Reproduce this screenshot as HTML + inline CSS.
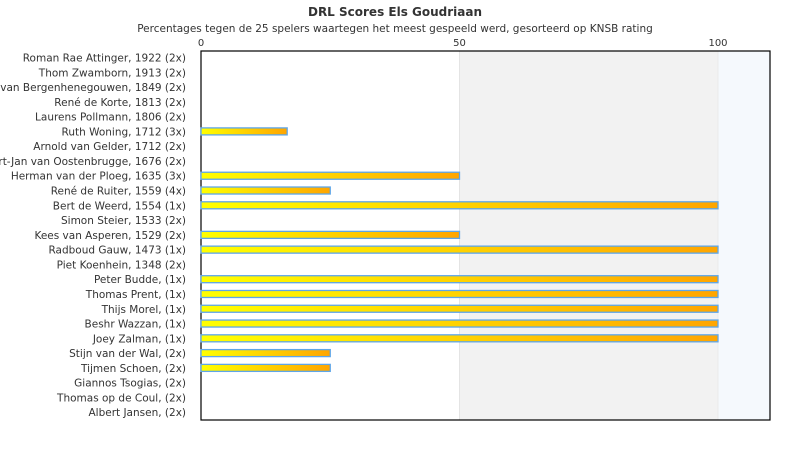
<!DOCTYPE html>
<html><head><meta charset="utf-8"><style>
body{margin:0;background:#fff;font-family:"DejaVu Sans","Liberation Sans",sans-serif;}
svg text{font-family:"DejaVu Sans","Liberation Sans",sans-serif;}
</style></head><body>
<svg id="c" width="790" height="450">
<defs><linearGradient id="g" x1="0" x2="1" y1="0" y2="0"><stop offset="0" stop-color="#ffff00"/><stop offset="1" stop-color="#ffa500"/></linearGradient></defs>
<text x="395" y="16" text-anchor="middle" font-size="12" font-weight="bold" fill="#333">DRL Scores Els Goudriaan</text>
<text x="395" y="32" text-anchor="middle" font-size="10.5" fill="#333">Percentages tegen de 25 spelers waartegen het meest gespeeld werd, gesorteerd op KNSB rating</text>
</svg>
<script>
const categories=["Roman Rae Attinger, 1922 (2x)","Thom Zwamborn, 1913 (2x)","Jan van Bergenhenegouwen, 1849 (2x)","René de Korte, 1813 (2x)","Laurens Pollmann, 1806 (2x)","Ruth Woning, 1712 (3x)","Arnold van Gelder, 1712 (2x)","Gert-Jan van Oostenbrugge, 1676 (2x)","Herman van der Ploeg, 1635 (3x)","René de Ruiter, 1559 (4x)","Bert de Weerd, 1554 (1x)","Simon Steier, 1533 (2x)","Kees van Asperen, 1529 (2x)","Radboud Gauw, 1473 (1x)","Piet Koenhein, 1348 (2x)","Peter Budde,  (1x)","Thomas Prent,  (1x)","Thijs Morel,  (1x)","Beshr Wazzan,  (1x)","Joey Zalman,  (1x)","Stijn van der Wal,  (2x)","Tijmen Schoen,  (2x)","Giannos Tsogias,  (2x)","Thomas op de Coul,  (2x)","Albert Jansen,  (2x)"];
const values=[0,0,0,0,0,16.67,0,0,50,25,100,0,50,100,0,100,100,100,100,100,25,25,0,0,0];
const tickValues=[0,50,100];
const bands=[[50,100,"#f2f2f2"],[100,110,"#f5f9fd"]];
const svg=document.getElementById('c');const NS="http://www.w3.org/2000/svg";
const L=201,R=770,T=51,B=420;
const x=v=>L+v*(718-L)/100;
const y=i=>57.5+i*14.78;
function mk(t,a){const e=document.createElementNS(NS,t);for(const k in a)e.setAttribute(k,a[k]);svg.appendChild(e);return e;}
bands.forEach(b=>{const e=mk('rect',{x:x(b[0]),y:T,width:x(b[1])-x(b[0]),height:B-T,fill:b[2]});

});
mk('line',{x1:x(50),x2:x(50),y1:T,y2:B,stroke:'#e4e4e4'});
mk('line',{x1:x(100),x2:x(100),y1:T,y2:B,stroke:'#eaeaea'});
const fr=mk('rect',{x:L,y:T,width:R-L,height:B-T,fill:'none',stroke:'#000','stroke-width':1.2});


tickValues.forEach(v=>{const t=mk('text',{x:x(v),y:T-5,'text-anchor':'middle','font-size':10,fill:'#333'});t.textContent=v;

});
categories.forEach((c,i)=>{const t=mk('text',{x:186,y:y(i)+4,'text-anchor':'end','font-size':10.5,fill:'#333'});t.textContent=c;


if(values[i]>0){const r=mk('rect',{x:L,y:y(i)-3.5,width:x(values[i])-L,height:7,fill:'url(#g)',stroke:'#5ea6e8','stroke-width':1.3});

}});
</script>
</body></html>
